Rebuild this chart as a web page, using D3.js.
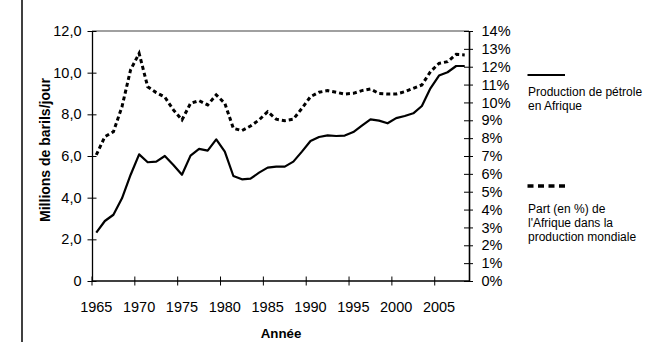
<!DOCTYPE html>
<html>
<head>
<meta charset="utf-8">
<script src="https://cdn.jsdelivr.net/npm/d3@7"></script>
<style>
  html, body { margin: 0; padding: 0; background: #fff; }
  svg { display: block; font-family: "Liberation Sans", Arial, sans-serif; }
</style>
</head>
<body>
<svg id="chart" width="645" height="342"></svg>
<script>
// Production de pétrole en Afrique (millions de barils/jour) et part dans la production mondiale (%)
const years = d3.range(1965, 2009);
const production = [
  2.32, 2.88, 3.18, 3.97, 5.09, 6.08, 5.70, 5.73, 6.00, 5.57,
  5.10, 6.02, 6.34, 6.26, 6.80, 6.21, 5.04, 4.88, 4.91, 5.20,
  5.44, 5.49, 5.49, 5.73, 6.21, 6.72, 6.91, 6.99, 6.96, 6.98,
  7.15, 7.46, 7.76, 7.70, 7.57, 7.82, 7.92, 8.05, 8.40, 9.25,
  9.86, 10.02, 10.32, 10.32
];
const share = [
  7.06, 8.08, 8.36, 9.76, 11.82, 12.75, 10.88, 10.55, 10.30, 9.58,
  9.02, 9.95, 10.10, 9.86, 10.42, 9.95, 8.55, 8.42, 8.68, 9.02,
  9.48, 9.06, 8.98, 9.06, 9.67, 10.32, 10.57, 10.66, 10.57, 10.47,
  10.51, 10.66, 10.75, 10.50, 10.47, 10.47, 10.60, 10.79, 10.98, 11.72,
  12.19, 12.28, 12.69, 12.66
];
const xTickYears = [1965, 1970, 1975, 1980, 1985, 1990, 1995, 2000, 2005];
const leftTicks = [0, 2, 4, 6, 8, 10, 12];
const rightTicks = d3.range(0, 15);
const legendLabels = [
  ["Production de pétrole", "en Afrique"],
  ["Part (en %) de", "l'Afrique dans la", "production mondiale"]
];

const svg = d3.select("#chart");
const plotL = 92, plotR = 469, plotT = 31, plotB = 281;

const x = d3.scaleBand().domain(years).range([plotL, plotR]).paddingInner(0).paddingOuter(0);
const yL = d3.scaleLinear().domain([0, 12]).range([plotB, plotT]);
const yR = d3.scaleLinear().domain([0, 14]).range([plotB, plotT]);
const cx = d => x(d) + x.bandwidth() / 2;

// frame line on the left of the page
svg.append("line").attr("x1", 22).attr("x2", 22).attr("y1", 0).attr("y2", 342)
  .attr("stroke", "#000").attr("stroke-width", 1.5);

// plot area border (top edge visible)
svg.append("line").attr("x1", plotL).attr("x2", plotR).attr("y1", plotT).attr("y2", plotT)
  .attr("stroke", "#808080").attr("stroke-width", 1.3);

const tickFont = "14.5px";

// left axis
const axL = svg.append("g").attr("transform", `translate(${plotL},0)`)
  .call(d3.axisLeft(yL).tickValues(leftTicks).tickSizeOuter(0).tickSizeInner(4.5).tickPadding(6)
    .tickFormat(d => d === 0 ? "0" : d3.format(".1f")(d).replace(".", ",")));
axL.select(".domain").attr("stroke", "#000").attr("stroke-width", 1.3);
axL.selectAll(".tick line").attr("x1", 4.5).attr("x2", -4.5).attr("stroke", "#000");
axL.selectAll(".tick text").attr("font-size", tickFont).attr("fill", "#000")
  .attr("font-family", "Liberation Sans, Arial, sans-serif").attr("x", -10.5);

// right axis
const axR = svg.append("g").attr("transform", `translate(${plotR},0)`)
  .call(d3.axisRight(yR).tickValues(rightTicks).tickSizeOuter(0).tickSizeInner(4.5).tickPadding(8)
    .tickFormat(d => d + "%"));
axR.select(".domain").attr("stroke", "#000").attr("stroke-width", 1.6);
axR.selectAll(".tick line").attr("x1", -5).attr("x2", 4).attr("stroke", "#000");
axR.selectAll(".tick text").attr("font-size", tickFont).attr("fill", "#000")
  .attr("font-family", "Liberation Sans, Arial, sans-serif").attr("x", 12.5);

// bottom axis: labels centred on categories, tick marks on category boundaries
const axB = svg.append("g").attr("transform", `translate(0,${plotB})`);
axB.append("line").attr("x1", plotL).attr("x2", plotR).attr("y1", 0).attr("y2", 0)
  .attr("stroke", "#000").attr("stroke-width", 1.3);
axB.selectAll("line.tk").data(xTickYears).join("line").attr("class", "tk")
  .attr("x1", d => x(d)).attr("x2", d => x(d)).attr("y1", -4.5).attr("y2", 4.5)
  .attr("stroke", "#000");
axB.selectAll("text").data(xTickYears).join("text")
  .attr("x", d => cx(d)).attr("y", 30.5).attr("text-anchor", "middle")
  .attr("font-size", tickFont).attr("fill", "#000").text(d => d);

// axis titles
svg.append("text").attr("transform", "translate(49.5,150) rotate(-90)")
  .attr("text-anchor", "middle").attr("font-weight", "bold").attr("font-size", "14px")
  .text("Millions de barils/jour");
svg.append("text").attr("x", 281).attr("y", 338).attr("text-anchor", "middle")
  .attr("font-weight", "bold").attr("font-size", "13.3px").text("Année");

// series
const lineProd = d3.line().x((d, i) => cx(years[i])).y(d => yL(d));
const lineShare = d3.line().x((d, i) => cx(years[i])).y(d => yR(d));

svg.append("path").datum(share).attr("d", lineShare)
  .attr("fill", "none").attr("stroke", "#000").attr("stroke-width", 3)
  .attr("stroke-dasharray", "4,3");
svg.append("path").datum(production).attr("d", lineProd)
  .attr("fill", "none").attr("stroke", "#000").attr("stroke-width", 2.2)
  .attr("stroke-linejoin", "round");

// legend
svg.append("line").attr("x1", 527.5).attr("x2", 565).attr("y1", 75).attr("y2", 75)
  .attr("stroke", "#000").attr("stroke-width", 2.2);
svg.append("line").attr("x1", 527.5).attr("x2", 566).attr("y1", 186).attr("y2", 186)
  .attr("stroke", "#000").attr("stroke-width", 3.5).attr("stroke-dasharray", "6,4.5");

const legY = [96, 213];
legendLabels.forEach((lines, k) => {
  svg.append("g").selectAll("text").data(lines).join("text")
    .attr("x", 528).attr("y", (d, i) => legY[k] + i * 14)
    .attr("font-size", "12px").attr("fill", "#000").text(d => d);
});
</script>
</body>
</html>
